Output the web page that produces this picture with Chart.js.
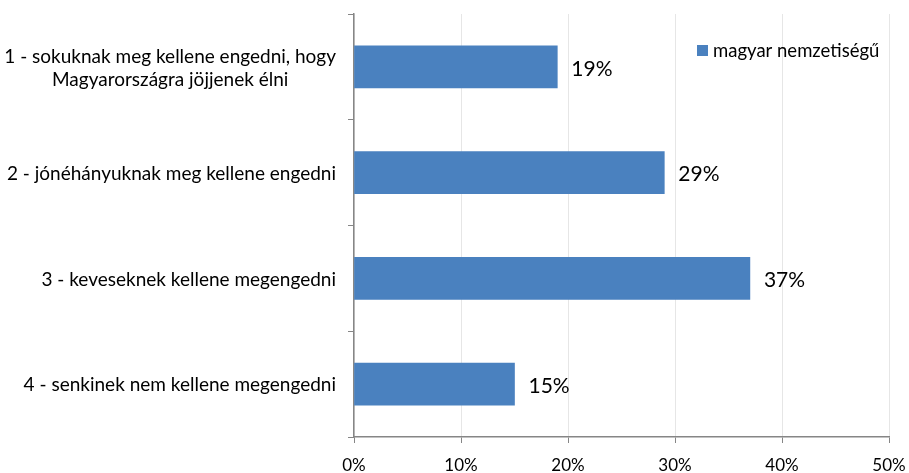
<!DOCTYPE html>
<html>
<head>
<meta charset="utf-8">
<script src="https://cdn.jsdelivr.net/npm/chart.js@4/dist/chart.umd.min.js"></script>
<style>
  html, body { margin: 0; padding: 0; background: #fff; }
  #wrap { width: 909px; height: 473px; }
</style>
</head>
<body>
<div id="wrap"><canvas id="chart" width="909" height="473"></canvas></div>
<script>
// category labels (first one is split over two lines)
const categories = [
    ['1 - sokuknak meg kellene engedni, hogy', 'Magyarországra jöjjenek élni'],
    ['2 - jónéhányuknak meg kellene engedni'],
    ['3 - keveseknek kellene megengedni'],
    ['4 - senkinek nem kellene megengedni']
];
const seriesName = 'magyar nemzetiségű';
const values = [19, 29, 37, 15];
const xTicks = [0, 10, 20, 30, 40, 50];

const FONT = 'Lato, "Open Sans", sans-serif';
const axisGray = '#868686';
const barBlue = '#4a81bf';

// draws the category labels: block right aligned, lines centered in the block
const categoryLabels = {
    id: 'categoryLabels',
    afterDraw(chart) {
        const ctx = chart.ctx;
        const y = chart.scales.y;
        ctx.save();
        ctx.font = '19px ' + FONT;
        ctx.fillStyle = '#000';
        ctx.textBaseline = 'middle';
        ctx.textAlign = 'center';
        categories.forEach(function (lines, i) {
            const cy = y.getPixelForValue(i);
            const w = Math.max.apply(null, lines.map(l => ctx.measureText(l).width));
            const right = y.right - 18;
            const cx = right - w / 2;
            const lh = 23;
            lines.forEach(function (line, j) {
                ctx.fillText(line, cx, cy + 1 + (j - (lines.length - 1) / 2) * lh);
            });
        });
        ctx.restore();
    }
};

// value labels at the end of the bars
const valueLabels = {
    id: 'valueLabels',
    afterDatasetsDraw(chart) {
        const ctx = chart.ctx;
        const meta = chart.getDatasetMeta(0);
        ctx.save();
        ctx.font = '21px ' + FONT;
        ctx.fillStyle = '#000';
        ctx.textBaseline = 'middle';
        ctx.textAlign = 'left';
        meta.data.forEach(function (bar, i) {
            ctx.fillText(values[i] + '%', bar.x + 14, bar.y + 2);
        });
        ctx.restore();
    }
};

// legend in the top right corner of the plot
const cornerLegend = {
    id: 'cornerLegend',
    afterDraw(chart) {
        const ctx = chart.ctx;
        ctx.save();
        ctx.fillStyle = barBlue;
        ctx.fillRect(697, 45, 11, 11);
        ctx.font = '18.5px ' + FONT;
        ctx.fillStyle = '#000';
        ctx.textBaseline = 'middle';
        ctx.textAlign = 'left';
        ctx.fillText(seriesName, 713, 51);
        ctx.restore();
    }
};

new Chart(document.getElementById('chart'), {
    type: 'bar',
    data: {
        labels: categories.map(c => c.join(' ')),
        datasets: [{
            label: seriesName,
            data: values,
            backgroundColor: barBlue,
            barThickness: 42
        }]
    },
    options: {
        indexAxis: 'y',
        responsive: false,
        animation: false,
        layout: { padding: { top: 14, right: 20, left: 0, bottom: 0 } },
        plugins: {
            legend: { display: false },
            tooltip: { enabled: false }
        },
        scales: {
            x: {
                min: 0,
                max: 50,
                afterBuildTicks(scale) {
                    scale.ticks = xTicks.map(v => ({ value: v }));
                },
                afterFit(scale) {
                    scale.height = 36;
                    scale.paddingRight = 0;
                    scale.paddingLeft = 0;
                },
                grid: {
                    color: '#e6e6e6',
                    tickColor: axisGray,
                    tickLength: 6
                },
                border: { color: axisGray, width: 1.5 },
                ticks: {
                    font: { family: FONT, size: 17 },
                    color: '#000',
                    padding: 12,
                    callback: v => v + '%'
                }
            },
            y: {
                afterFit(scale) { scale.width = 354; },
                grid: {
                    offset: true,
                    drawOnChartArea: false,
                    tickColor: axisGray,
                    tickLength: 6
                },
                border: { color: axisGray, width: 1.5 },
                ticks: { display: false }
            }
        }
    },
    plugins: [categoryLabels, valueLabels, cornerLegend]
});
</script>
</body>
</html>
